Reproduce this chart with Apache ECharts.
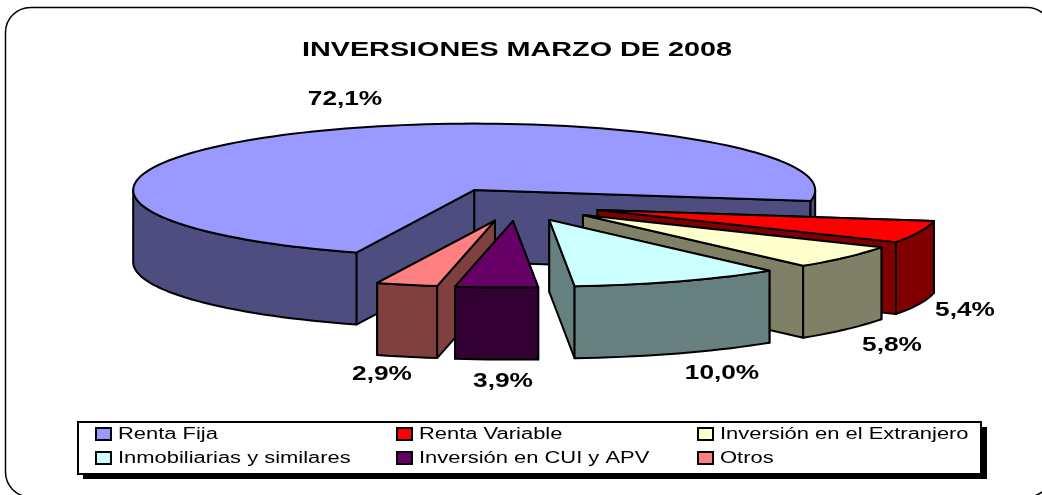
<!DOCTYPE html>
<html>
<head>
<meta charset="utf-8">
<title>Inversiones marzo de 2008</title>
<style>
  html, body { margin: 0; padding: 0; background: #fff; }
  #main { width: 1042px; height: 495px; }
</style>
</head>
<body>
<div id="main"></div>
<script src="https://cdn.jsdelivr.net/npm/echarts@6/dist/echarts.min.js"></script>
<script>
var titleText = 'INVERSIONES MARZO DE 2008';
var categories = ['Renta Fija', 'Renta Variable', 'Inversión en el Extranjero', 'Inmobiliarias y similares', 'Inversión en CUI y APV', 'Otros'];
var values = [72.1, 5.4, 5.8, 10.0, 3.9, 2.9];
var valueLabels = ['72,1%', '5,4%', '5,8%', '10,0%', '3,9%', '2,9%'];
var topColors = ['#9999ff', '#ff0000', '#ffffcc', '#ccffff', '#660066', '#ff8080'];
var sideColors = ['#4d4d80', '#800000', '#808066', '#668080', '#330033', '#804040'];

// pie geometry, angles are clockwise from the top of the ellipse
var cx = 517, cy = 204.5, rx = 341, ry = 66.5, depth = 72;
var explode = 0.25, startAngle = 200.2;
var stroke = { stroke: '#000', lineWidth: 2, lineJoin: 'round' };

var chart = echarts.init(document.getElementById('main'));

function rad(a) { return a * Math.PI / 180; }

function rim(c, a) {
  return [c[0] + rx * Math.sin(rad(a)), c[1] - ry * Math.cos(rad(a))];
}

function arc(c, a0, a1) {
  var pts = [];
  var n = Math.max(2, Math.ceil(Math.abs(a1 - a0) / 2));
  for (var i = 0; i <= n; i++) pts.push(rim(c, a0 + (a1 - a0) * i / n));
  return pts;
}

function down(pts) {
  return pts.map(function (p) { return [p[0], p[1] + depth]; }).reverse();
}

function poly(points, color) {
  return { type: 'polygon', shape: { points: points }, style: Object.assign({ fill: color }, stroke) };
}

// one slice: side walls first, then the round wall, then the top face
function renderSlice(params, api) {
  var i = params.dataIndex;
  var sum = values.reduce(function (s, v) { return s + v; }, 0);
  var before = values.slice(0, i).reduce(function (s, v) { return s + v; }, 0);
  var a0 = startAngle + before / sum * 360;
  var a1 = a0 + api.value(0) / sum * 360;
  var mid = (a0 + a1) / 2;
  var c = [cx + explode * rx * Math.sin(rad(mid)), cy - explode * ry * Math.cos(rad(mid))];
  var side = sideColors[i];
  var faces = [];

  var walls = [a0, a1].sort(function (p, q) { return rim(c, p)[1] - rim(c, q)[1]; });
  walls.forEach(function (a) {
    var edge = [c, rim(c, a)];
    faces.push(poly(edge.concat(down(edge)), side));
  });

  // only the front half of the rim faces the viewer
  [[90, 270], [450, 630]].forEach(function (r) {
    var from = Math.max(a0, r[0]), to = Math.min(a1, r[1]);
    if (to > from) {
      var pts = arc(c, from, to);
      faces.push(poly(pts.concat(down(pts)), side));
    }
  });

  faces.push(poly([c].concat(arc(c, a0, a1)), topColors[i]));
  return { type: 'group', children: faces };
}

// Otros goes under Inversión en CUI, so draw in this order
var drawOrder = [0, 1, 2, 3, 5, 4];

var sliceSeries = drawOrder.map(function (i, k) {
  return {
    type: 'custom',
    name: categories[i],
    coordinateSystem: 'none',
    z: 2 + k,
    silent: true,
    renderItem: function (params, api) {
      return renderSlice({ dataIndex: i }, api);
    },
    data: [[values[i]]]
  };
});

// label spots, same order as categories
var labelX = [345, 965, 892, 722, 503, 382];
var labelY = [99, 310, 345, 373, 381, 374];
var legendCols = [96, 397, 698];
var legendRows = [428, 452];

var texts = [];
texts.push({
  type: 'text', x: 517, y: 50, scaleX: 1.37, z: 20,
  style: { text: titleText, font: 'bold 21px "Liberation Sans"', fill: '#000', align: 'center', verticalAlign: 'middle' }
});
valueLabels.forEach(function (t, i) {
  texts.push({
    type: 'text', x: labelX[i], y: labelY[i], scaleX: 1.25, z: 20,
    style: { text: t, font: 'bold 21px "Liberation Sans"', fill: '#000', align: 'center', verticalAlign: 'middle' }
  });
});

var legendParts = [
  { type: 'rect', shape: { x: 83, y: 427, width: 904, height: 52 }, style: { fill: '#000' }, z: 20 },
  { type: 'rect', shape: { x: 78, y: 422, width: 903, height: 52 }, style: { fill: '#fff', stroke: '#000', lineWidth: 2 }, z: 21 }
];
categories.forEach(function (name, i) {
  var col = legendCols[i % 3], row = legendRows[Math.floor(i / 3)];
  legendParts.push({
    type: 'rect', shape: { x: col, y: row, width: 15, height: 12 },
    style: { fill: topColors[i], stroke: '#000', lineWidth: 2 }, z: 22
  });
  legendParts.push({
    type: 'text', x: col + 22, y: row + 7, scaleX: 1.37, z: 22,
    style: { text: name, font: '16px "Liberation Sans"', fill: '#000', align: 'left', verticalAlign: 'middle' }
  });
});

var frame = {
  type: 'rect', shape: { x: 5.5, y: 7.5, width: 1046.5, height: 489.5, r: 25 },
  style: { fill: '#fff', stroke: '#000', lineWidth: 1.5 }, z: 0
};

chart.setOption({
  animation: false,
  backgroundColor: '#fff',
  graphic: { elements: [frame].concat(texts, legendParts) },
  series: sliceSeries
});
</script>
</body>
</html>
